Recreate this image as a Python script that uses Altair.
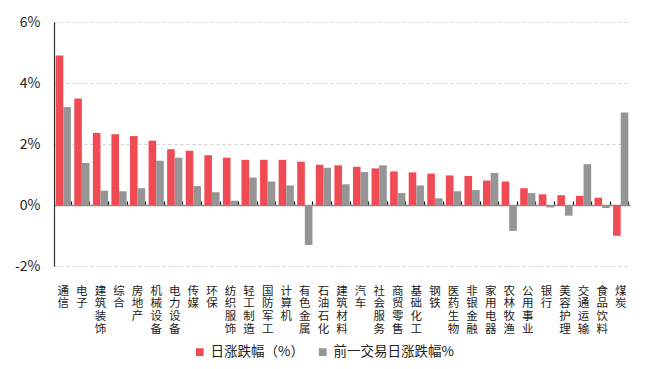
import altair as alt
import pandas as pd

categories = ["通信", "电子", "建筑装饰", "综合", "房地产", "机械设备", "电力设备", "传媒",
              "环保", "纺织服饰", "轻工制造", "国防军工", "计算机", "有色金属", "石油石化",
              "建筑材料", "汽车", "社会服务", "商贸零售", "基础化工", "钢铁", "医药生物",
              "非银金融", "家用电器", "农林牧渔", "公用事业", "银行", "美容护理", "交通运输",
              "食品饮料", "煤炭"]
daily = [4.90, 3.49, 2.36, 2.32, 2.26, 2.11, 1.83, 1.78, 1.63, 1.55, 1.48, 1.48, 1.48,
         1.42, 1.32, 1.30, 1.25, 1.20, 1.10, 1.07, 1.03, 0.97, 0.95, 0.80, 0.77, 0.55,
         0.35, 0.32, 0.30, 0.24, -1.01]
prev = [3.21, 1.38, 0.47, 0.45, 0.55, 1.45, 1.55, 0.62, 0.42, 0.14, 0.90, 0.77, 0.64,
        -1.31, 1.22, 0.68, 1.08, 1.30, 0.39, 0.64, 0.22, 0.45, 0.49, 1.05, -0.85, 0.39,
        -0.08, -0.35, 1.34, -0.10, 3.03]
series_names = ["日涨跌幅（%）", "前一交易日涨跌幅%"]
colors = ["#F04B55", "#959595"]
y_ticks = [-2, 0, 2, 4, 6]

rows = []
for i, c in enumerate(categories):
    rows.append({"行业": c, "系列": series_names[0], "值": daily[i], "order": 0})
    rows.append({"行业": c, "系列": series_names[1], "值": prev[i], "order": 1})
df = pd.DataFrame(rows)

FONT = "Noto Sans CJK SC"
W, H = 576, 244

x_enc = alt.X("行业:N", sort=categories,
              scale=alt.Scale(paddingInner=0.18, paddingOuter=0.09),
              axis=alt.Axis(title=None, labelAngle=0, labelAlign="center", labelBaseline="top",
                            labelExpr="split(datum.label, '')", labelLineHeight=12.8,
                            labelFontSize=11.5, labelFont=FONT, labelColor="#222",
                            labelPadding=19, domain=False, ticks=False, grid=False,
                            labelOverlap=False))

bars = alt.Chart(df).mark_bar().encode(
    x=x_enc,
    xOffset=alt.XOffset("系列:N", sort=series_names, scale=alt.Scale(paddingInner=0, paddingOuter=0)),
    y=alt.Y("值:Q", scale=alt.Scale(domain=[-2, 6], nice=False),
            axis=alt.Axis(title=None, values=y_ticks, labelExpr="datum.value + '%'",
                          labelFontSize=14, labelFont=FONT, labelColor="#222", labelPadding=14,
                          domainColor="#333", domainWidth=1.2, ticks=False,
                          grid=True, gridColor="#cfcfcf", gridDash=[3, 3],
                          gridWidth=1)),
    color=alt.Color("系列:N", sort=series_names,
                    scale=alt.Scale(domain=series_names, range=colors),
                    legend=alt.Legend(title=None, orient="none", direction="horizontal",
                                      legendX=139, legendY=323, symbolType="square",
                                      symbolSize=60, symbolStrokeWidth=0, labelFontSize=13.5,
                                      labelFont=FONT, labelColor="#222", columnPadding=12,
                                      labelOffset=4)),
    order=alt.Order("order:Q"),
)

zero_axis = alt.Chart(df).mark_bar(opacity=0).encode(
    x=alt.X("行业:N", sort=categories,
            scale=alt.Scale(paddingInner=0.18, paddingOuter=0.09),
            axis=alt.Axis(title=None, orient="top", offset=-(H * 6 / 8), labels=False,
                          domainColor="#8a8a8a", domainWidth=1.6, ticks=True, tickSize=4,
                          tickColor="#111", tickWidth=1.2, tickBand="extent", grid=False)),
    y=alt.Y("值:Q"),
)

chart = alt.layer(bars, zero_axis).resolve_axis(x="independent").properties(
    width=W, height=H,
    autosize=alt.AutoSizeParams(type="none"),
    padding={"left": 46, "top": 14, "right": 20, "bottom": 102},
).configure_view(stroke=None)

chart.save("out.html", embed_options={"renderer": "svg", "actions": False})
